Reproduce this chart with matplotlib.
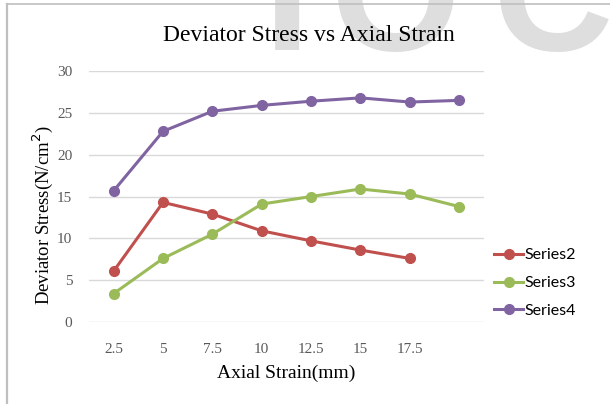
import matplotlib.pyplot as plt
from matplotlib.lines import Line2D

# categories on the x axis (last one has no label in the original)
strain_labels = ['2.5', '5', '7.5', '10', '12.5', '15', '17.5', '']

series2 = [6.1, 14.3, 12.9, 10.9, 9.7, 8.6, 7.6]
series3 = [3.4, 7.6, 10.5, 14.1, 15.0, 15.9, 15.3, 13.8]
series4 = [15.7, 22.8, 25.2, 25.9, 26.4, 26.8, 26.3, 26.5]

y_ticks = [0, 5, 10, 15, 20, 25, 30]

fig = plt.figure(figsize=(6.1, 4.04), dpi=100)

# faint watermark letters behind the chart, cut off at the top
for letter, xc in [('I', 0.470), ('O', 0.648), ('C', 0.905)]:
    fig.text(xc, 0.876, letter, fontsize=120, fontweight='bold', color='#dedede',
             family='Liberation Sans', ha='center', va='baseline', zorder=-5)

# border lines of the pasted chart
fig.add_artist(Line2D([0.011, 0.011], [0, 0.99], color='#bfbfbf', lw=1.6))
fig.add_artist(Line2D([0.011, 1.0], [0.99, 0.99], color='#bfbfbf', lw=1.2))

ax = fig.add_axes([0.146, 0.203, 0.647, 0.621])
ax.patch.set_alpha(0)

x_all = list(range(len(strain_labels)))
ax.plot(x_all[:len(series2)], series2, color='#C0504D', lw=2.2, marker='o', ms=7, label='Series2')
ax.plot(x_all, series3, color='#9BBB59', lw=2.2, marker='o', ms=7, label='Series3')
ax.plot(x_all, series4, color='#8064A2', lw=2.2, marker='o', ms=7, label='Series4')

ax.set_xlim(-0.5, len(strain_labels) - 0.5)
ax.set_ylim(0, 30)
ax.set_xticks(x_all)
ax.set_xticklabels(strain_labels)
ax.set_yticks(y_ticks)
ax.grid(axis='y', color='#d9d9d9', lw=1)
ax.set_axisbelow(True)
for s in ax.spines.values():
    s.set_visible(False)
ax.tick_params(length=0, labelsize=11, labelcolor='#595959')
ax.tick_params(axis='x', pad=15)
ax.tick_params(axis='y', pad=12)
for lab in ax.get_xticklabels() + ax.get_yticklabels():
    lab.set_family('Liberation Serif')

fig.text(0.507, 0.913, 'Deviator Stress vs Axial Strain', family='Liberation Serif',
         fontsize=17, ha='center', va='center')
ax.set_xlabel('Axial Strain(mm)', family='Liberation Serif', fontsize=14)
ax.set_ylabel('Deviator Stress(N/cm$^2$)', family='Liberation Serif', fontsize=13.5)
ax.xaxis.set_label_coords(0.5, -0.17)
ax.yaxis.set_label_coords(-0.086, 0.426)

ax.legend(loc='center left', bbox_to_anchor=(0.99, 0.155), frameon=False,
          prop={'family': 'Lato', 'size': 11.5}, handlelength=1.8, handletextpad=0.1,
          labelspacing=0.85)

fig.savefig('out.png', dpi=100)
